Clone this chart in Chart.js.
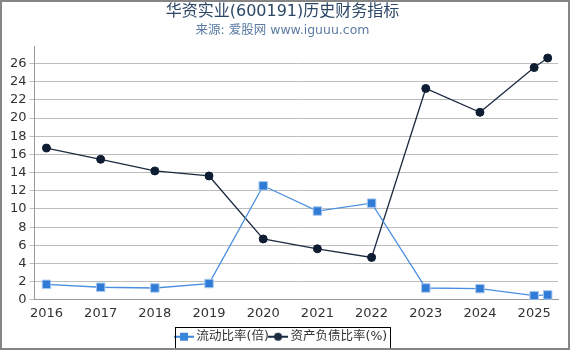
<!DOCTYPE html>
<html>
<head>
<meta charset="utf-8">
<script src="https://cdn.jsdelivr.net/npm/chart.js@4/dist/chart.umd.min.js"></script>
<style>
    html, body { margin: 0; padding: 0; background: #fff; }
    #wrap { width: 570px; height: 350px; box-sizing: border-box; border: 2px solid #858585; position: relative; }
</style>
</head>
<body>
<div id="wrap"><canvas id="chartCanvas" width="566" height="346"></canvas></div>
<script>
// data
const years = [2016, 2017, 2018, 2019, 2020, 2021, 2022, 2023, 2024, 2025, 2025.25];
const currentRatio = [1.71, 1.39, 1.31, 1.8, 12.55, 9.77, 10.64, 1.31, 1.24, 0.47, 0.55];
const debtRatio = [16.7, 15.46, 14.18, 13.63, 6.7, 5.62, 4.67, 23.25, 20.63, 25.55, 26.6];
const yearTicks = [2016, 2017, 2018, 2019, 2020, 2021, 2022, 2023, 2024, 2025];
const yTicks = [0, 2, 4, 6, 8, 10, 12, 14, 16, 18, 20, 22, 24, 26];

const FONT = "'DejaVu Sans', 'Noto Sans CJK SC', sans-serif";

function legendIcon(color, style) {
    const c = document.createElement('canvas');
    c.width = 20;
    c.height = 12;
    const ctx = c.getContext('2d');
    ctx.strokeStyle = color;
    ctx.lineWidth = 2;
    ctx.beginPath();
    ctx.moveTo(0, 6);
    ctx.lineTo(20, 6);
    ctx.stroke();
    ctx.fillStyle = color;
    if (style === 'rect') {
        ctx.fillRect(6, 2, 8, 8);
    } else {
        ctx.beginPath();
        ctx.arc(10, 6, 4, 0, Math.PI * 2);
        ctx.fill();
    }
    return c;
}

function toPoints(vals) {
    return vals.map((v, i) => ({x: years[i], y: v}));
}

// draws the black box round the legend items
const legendBox = {
    id: 'legendBox',
    afterDraw(chart) {
        const boxes = chart.legend.legendHitBoxes;
        if (!boxes || !boxes.length) return;
        const left = Math.min(...boxes.map(b => b.left)) - 3;
        const right = Math.max(...boxes.map(b => b.left + b.width)) + 3;
        const top = boxes[0].top - 4;
        const bottom = boxes[0].top + boxes[0].height + 4;
        const ctx = chart.ctx;
        ctx.save();
        ctx.strokeStyle = '#000';
        ctx.lineWidth = 1;
        ctx.strokeRect(Math.round(left) + 0.5, Math.round(top) + 0.5, Math.round(right - left), Math.round(bottom - top));
        ctx.restore();
    }
};

new Chart(document.getElementById('chartCanvas'), {
    type: 'line',
    data: {
        datasets: [
            {
                label: '流动比率(倍)',
                data: toPoints(currentRatio),
                borderColor: '#4a8fe0',
                backgroundColor: '#2f7bd6',
                borderWidth: 1.3,
                pointStyle: 'rect',
                pointRadius: 6,
                pointBorderColor: '#a9c9f0',
                pointBorderWidth: 1,
                tension: 0
            },
            {
                label: '资产负债比率(%)',
                data: toPoints(debtRatio),
                borderColor: '#1c2b40',
                backgroundColor: '#0f1d33',
                borderWidth: 1.3,
                pointStyle: 'circle',
                pointRadius: 4,
                pointBorderColor: '#0f1d33',
                pointBorderWidth: 1,
                tension: 0
            }
        ]
    },
    options: {
        responsive: false,
        animation: false,
        layout: {padding: {left: 5, right: 10, top: 0, bottom: -5}},
        plugins: {
            title: {
                display: true,
                text: '华资实业(600191)历史财务指标',
                color: '#2c4766',
                font: {family: FONT, size: 16, weight: 'normal'},
                padding: {top: 0, bottom: 2}
            },
            subtitle: {
                display: true,
                text: '来源: 爱股网 www.iguuu.com',
                color: '#5b7ba3',
                font: {family: FONT, size: 12.5},
                padding: {top: 0, bottom: 8}
            },
            legend: {
                position: 'bottom',
                labels: {
                    color: '#333',
                    font: {family: FONT, size: 12.5},
                    usePointStyle: true,
                    boxWidth: 20,
                    boxHeight: 12,
                    padding: 3,
                    generateLabels(chart) {
                        return chart.data.datasets.map((ds, i) => ({
                            text: ds.label,
                            pointStyle: legendIcon(i === 0 ? '#3a86dc' : '#1c2b40', i === 0 ? 'rect' : 'circle'),
                            fontColor: '#333',
                            datasetIndex: i,
                            lineWidth: 0
                        }));
                    }
                }
            },
            tooltip: {enabled: false}
        },
        scales: {
            x: {
                type: 'linear',
                min: 2015.78,
                max: 2025.44,
                afterBuildTicks(axis) {
                    axis.ticks = yearTicks.map(v => ({value: v}));
                },
                grid: {display: false, drawOnChartArea: false, drawTicks: true, tickLength: 5, color: '#999'},
                border: {display: true, color: '#999'},
                ticks: {
                    color: '#333',
                    font: {family: FONT, size: 13},
                    padding: 1,
                    maxRotation: 0,
                    autoSkip: false,
                    callback: v => String(v)
                },
                afterFit(axis) {
                    axis.height += 5;
                }
            },
            y: {
                min: 0,
                max: 27.9,
                afterBuildTicks(axis) {
                    axis.ticks = yTicks.map(v => ({value: v}));
                },
                grid: {color: '#bdbdbd', lineWidth: 1, tickLength: 5, drawTicks: true},
                border: {display: true, color: '#999'},
                ticks: {
                    color: '#333',
                    font: {family: FONT, size: 13},
                    padding: 3
                }
            }
        }
    },
    plugins: [legendBox]
});
</script>
</body>
</html>
